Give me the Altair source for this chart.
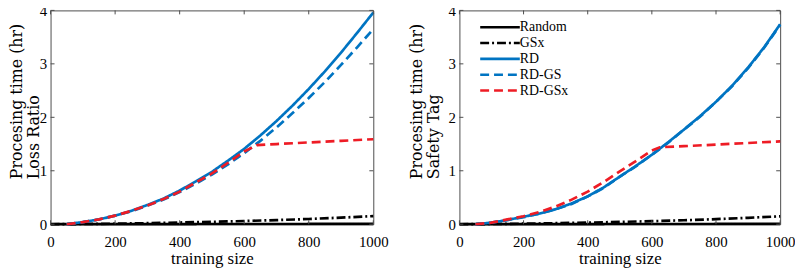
import altair as alt
import pandas as pd

FONT = "Liberation Serif"
TITLE_FONT = "DejaVu Serif"
FRAME = "#4d4d4d"
SERIES = ["Random", "GSx", "RD", "RD-GS", "RD-GSx"]
COLORS = ["#000000", "#000000", "#0074C2", "#0074C2", "#EE1C25"]
DASHES = [[1, 0], [9, 3, 2, 3], [1, 0], [9, 5], [9, 5]]

XTICKS = [0, 200, 400, 600, 800, 1000]
YTICKS = [0, 1, 2, 3, 4]

X_BLACK = [0, 100, 200, 300, 400, 500, 600, 700, 800, 900, 1000]
X_RD = [50, 100, 150, 200, 250, 300, 350, 400, 450, 500, 550, 600, 650, 700,
        750, 800, 850, 900, 950, 1000]

# Loss Ratio panel
LR_RANDOM = [0.002, 0.002, 0.003, 0.003, 0.003, 0.004, 0.004, 0.004, 0.005, 0.005, 0.005]
LR_GSX = [0.000, 0.004, 0.010, 0.020, 0.032, 0.045, 0.060, 0.077, 0.098, 0.123, 0.152]
LR_RD = [0.00, 0.04, 0.09, 0.16, 0.25, 0.36, 0.48, 0.63, 0.80, 0.98, 1.19, 1.41,
         1.66, 1.93, 2.22, 2.53, 2.86, 3.21, 3.58, 3.96]
LR_RDGS = [0.00, 0.04, 0.09, 0.16, 0.24, 0.35, 0.46, 0.60, 0.76, 0.93, 1.12, 1.33,
           1.56, 1.81, 2.08, 2.36, 2.66, 2.98, 3.31, 3.65]
X_LR_RDGSX = [50, 100, 150, 200, 250, 300, 350, 400, 450, 500, 550, 600, 640,
              700, 800, 900, 1000]
LR_RDGSX = [0.00, 0.04, 0.09, 0.16, 0.25, 0.35, 0.47, 0.61, 0.78, 0.95, 1.15, 1.36,
            1.48, 1.50, 1.53, 1.56, 1.59]

# Safety Tag panel
ST_RANDOM = [0.002, 0.002, 0.003, 0.003, 0.003, 0.004, 0.004, 0.004, 0.005, 0.005, 0.005]
ST_GSX = [0.000, 0.004, 0.010, 0.019, 0.030, 0.043, 0.057, 0.074, 0.095, 0.120, 0.148]
ST_RD = [0.00, 0.03, 0.08, 0.14, 0.20, 0.28, 0.39, 0.52, 0.69, 0.89, 1.09, 1.30,
         1.53, 1.77, 2.02, 2.29, 2.59, 2.93, 3.31, 3.74]
ST_RDGS = [0.00, 0.03, 0.08, 0.13, 0.20, 0.28, 0.38, 0.52, 0.68, 0.89, 1.08, 1.30,
           1.52, 1.77, 2.01, 2.29, 2.58, 2.92, 3.30, 3.73]
X_ST_RDGSX = [50, 100, 150, 200, 250, 300, 350, 400, 450, 500, 550, 600, 625,
              700, 800, 900, 1000]
ST_RDGSX = [0.00, 0.03, 0.09, 0.15, 0.23, 0.33, 0.46, 0.61, 0.79, 0.99, 1.18, 1.38,
            1.44, 1.46, 1.49, 1.52, 1.55]

H = 216


def make_df(pairs):
    rows = []
    for name, xs, ys in pairs:
        for x, y in zip(xs, ys):
            rows.append({"series": name, "x": x, "y": y})
    return pd.DataFrame(rows)


def panel(df, ytitle, W, show_legend, title_x):
    xs = alt.Scale(domain=[0, 1000], nice=False, zero=False)
    ys = alt.Scale(domain=[0, 4], nice=False)
    x_axis = alt.Axis(values=XTICKS, format="d", title="training size",
                      domain=False, ticks=False, tickSize=0, grid=False,
                      labelFont=FONT, labelFontSize=15, labelColor="black",
                      labelPadding=23, labelBaseline="alphabetic",
                      labelFlush=False, labelOverlap=False,
                      titleFont=FONT, titleFontSize=17, titleFontWeight="normal",
                      titleColor="black", titleBaseline="alphabetic",
                      titleY=40, titleX=W / 2)
    y_axis = alt.Axis(values=YTICKS, format="d", title=ytitle,
                      domain=False, ticks=False, tickSize=0, grid=False,
                      labelFont=FONT, labelFontSize=15, labelColor="black",
                      labelPadding=4, labelFlush=False, labelOverlap=False,
                      titleFont=TITLE_FONT, titleFontSize=16,
                      titleFontWeight="normal",
                      titleColor="black", titleAngle=270, titleAlign="left",
                      titleBaseline="top", titleLineHeight=17,
                      titleX=title_x, titleY=170)
    if show_legend:
        leg = alt.Legend(title=None, orient="none", legendX=34, legendY=10,
                         symbolType="M-4,0L4,0", symbolSize=100,
                         symbolStrokeWidth=2.6, labelFont=FONT,
                         labelFontSize=14, labelColor="black", labelOffset=13,
                         rowPadding=2, padding=0)
    else:
        leg = None
    color = alt.Color("series:N", scale=alt.Scale(domain=SERIES, range=COLORS),
                      legend=leg)
    dash = alt.StrokeDash("series:N", scale=alt.Scale(domain=SERIES, range=DASHES),
                          legend=leg)
    base = alt.Chart(df)
    layers = []
    for s in SERIES:
        layers.append(
            base.transform_filter(alt.datum.series == s)
            .mark_line(strokeWidth=2.7)
            .encode(x=alt.X("x:Q", scale=xs, axis=x_axis),
                    y=alt.Y("y:Q", scale=ys, axis=y_axis),
                    color=color, strokeDash=dash)
        )
    xt = pd.DataFrame({"x": XTICKS})
    yt = pd.DataFrame({"y": YTICKS})
    tb = alt.Chart(xt).mark_rule(color=FRAME, strokeWidth=1).encode(
        x=alt.X("x:Q", scale=xs, axis=x_axis), y=alt.value(H), y2=alt.value(H - 4))
    tt = alt.Chart(xt).mark_rule(color=FRAME, strokeWidth=1).encode(
        x=alt.X("x:Q", scale=xs, axis=x_axis), y=alt.value(0), y2=alt.value(4))
    tl = alt.Chart(yt).mark_rule(color=FRAME, strokeWidth=1).encode(
        y=alt.Y("y:Q", scale=ys, axis=y_axis), x=alt.value(0), x2=alt.value(4))
    tr = alt.Chart(yt).mark_rule(color=FRAME, strokeWidth=1).encode(
        y=alt.Y("y:Q", scale=ys, axis=y_axis), x=alt.value(W - 4), x2=alt.value(W))
    return alt.layer(*layers, tb, tt, tl, tr).properties(width=W, height=H)


df_lr = make_df([
    ("Random", X_BLACK, LR_RANDOM),
    ("GSx", X_BLACK, LR_GSX),
    ("RD", X_RD, LR_RD),
    ("RD-GS", X_RD, LR_RDGS),
    ("RD-GSx", X_LR_RDGSX, LR_RDGSX),
])
df_st = make_df([
    ("Random", X_BLACK, ST_RANDOM),
    ("GSx", X_BLACK, ST_GSX),
    ("RD", X_RD, ST_RD),
    ("RD-GS", X_RD, ST_RDGS),
    ("RD-GSx", X_ST_RDGSX, ST_RDGSX),
])

left = panel(df_lr, ["Procesing time (hr)", "Loss Ratio"], 326, False, -42)
right = panel(df_st, ["Procesing time (hr)", "Safety Tag"], 324, True, -51)

chart = (
    alt.hconcat(left, right, spacing=87, bounds="flush")
    .resolve_scale(color="independent", strokeDash="independent")
    .resolve_legend(color="independent", strokeDash="independent")
    .configure_view(stroke=FRAME, strokeWidth=1)
    .properties(autosize=alt.AutoSizeParams(type="none"),
                padding={"left": 43, "top": 0, "right": 752, "bottom": 261},
                background="white")
)

chart.save("out.html", embed_options={"renderer": "svg", "actions": False})
